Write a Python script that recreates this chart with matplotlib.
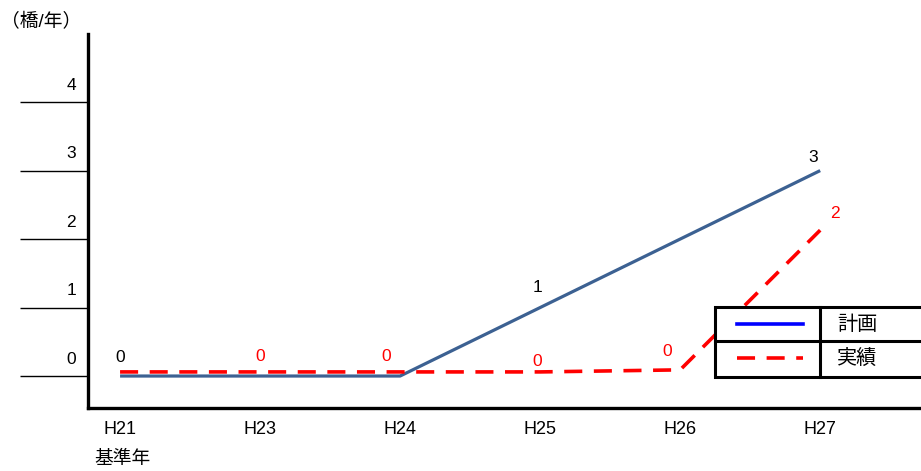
import matplotlib
matplotlib.use("Agg")
import matplotlib.pyplot as plt
from matplotlib.lines import Line2D
from matplotlib.patches import Rectangle

plt.rcParams['font.family'] = ['Liberation Sans', 'Noto Sans CJK JP']

# データ
years = ["H21", "H23", "H24", "H25", "H26", "H27"]
plan = [0, 0, 0, 1, 2, 3]
actual = [0.06, 0.06, 0.06, 0.06, 0.09, 2.13]
plan_labels = {0: "0", 3: "1", 5: "3"}
actual_labels = {1: "0", 2: "0", 3: "0", 4: "0", 5: "2"}
yticks = [0, 1, 2, 3, 4]

W, H = 921, 471
fig = plt.figure(figsize=(W / 100, H / 100), dpi=100)
ax = fig.add_axes([88 / W, 1 - 408 / H, (W - 88) / W, (408 - 34) / H])

xs = list(range(len(years)))
ax.plot(xs, plan, color="#3c6192", lw=2.3, solid_capstyle="butt", zorder=3)
ax.plot(xs, actual, color="#ff0000", lw=2.6, dashes=(5, 3.2), zorder=4)

ax.set_xlim(-0.229, 5.72)
ax.set_ylim(-0.467, 4.995)

# 軸
for s in ["top", "right"]:
    ax.spines[s].set_visible(False)
ax.spines["left"].set_linewidth(2.4)
ax.spines["bottom"].set_linewidth(2.4)
ax.set_xticks(xs)
ax.set_xticklabels(years, fontsize=13)
ax.tick_params(axis="x", length=0, pad=9)
ax.set_yticks(yticks)
ax.tick_params(axis="y", length=49, width=1, labelleft=False)
for v in yticks:
    ax.annotate(str(v), xy=(0, v), xycoords=ax.get_yaxis_transform(),
                xytext=(-12, 17), textcoords="offset pixels",
                ha="right", va="center", fontsize=12.5)

# データラベル
plan_off = {0: (0, 19), 3: (-3, 20), 5: (-7, 13)}
for i, s in plan_labels.items():
    ax.annotate(s, xy=(i, plan[i]), xytext=plan_off[i], textcoords="offset pixels",
                ha="center", va="center", fontsize=12.5, color="black")
act_off = {1: (0, 15), 2: (-14, 15), 3: (-3, 10), 4: (-13, 18), 5: (15, 17)}
for i, s in actual_labels.items():
    ax.annotate(s, xy=(i, actual[i]), xytext=act_off[i], textcoords="offset pixels",
                ha="center", va="center", fontsize=12.5, color="#ff0000")

fig.text(1 / W, 1 - 22 / H, "（橋/年）", fontsize=13.5, ha="left", va="center")
fig.text(122 / W, 1 - 459 / H, "基準年", fontsize=13.5, ha="center", va="center")

# 凡例（表形式）
def fx(x):
    return x / W

def fy(y):
    return 1 - y / H

fig.add_artist(Rectangle((fx(715), fy(377)), fx(240), fy(307) - fy(377),
                         facecolor="white", edgecolor="black", lw=2.2, zorder=10))
fig.add_artist(Line2D([fx(715), fx(921)], [fy(341), fy(341)], color="black", lw=2.2, zorder=11))
fig.add_artist(Line2D([fx(820), fx(820)], [fy(307), fy(377)], color="black", lw=2.2, zorder=11))
fig.add_artist(Line2D([fx(737), fx(803)], [fy(324), fy(324)], color="#0000ff", lw=2.6, zorder=11))
fig.add_artist(Line2D([fx(737), fx(803)], [fy(358), fy(358)], color="#ff0000", lw=2.6,
                      dashes=(5, 3.2), zorder=11))
fig.text(fx(857), fy(324), "計画", fontsize=14.5, ha="center", va="center", zorder=12)
fig.text(fx(857), fy(358), "実績", fontsize=14.5, ha="center", va="center", zorder=12)

fig.savefig("out.png", dpi=100)
